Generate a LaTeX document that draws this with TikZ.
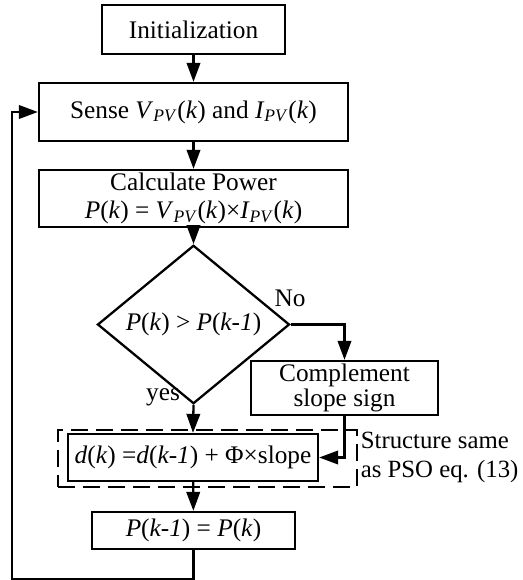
\documentclass[tikz,border=0pt]{standalone}
\usepackage{fontspec}
\setmainfont{Liberation Serif}
\usetikzlibrary{arrows.meta,shapes.geometric}

\newcommand{\vpv}{\textit{V}\textsubscript{\textit{PV}}}
\newcommand{\ipv}{\textit{I}\textsubscript{\textit{PV}}}

\tikzset{
	every node/.style={font=\fontsize{14.4}{16.5}\selectfont},
	box/.style={draw, line width=1.3pt, inner sep=0pt, align=center},
	decision/.style={draw, diamond, line width=1.3pt, inner sep=0pt, minimum width=3.84cm, minimum height=2.3cm},
	dashbox/.style={draw, line width=1.6pt, dash pattern=on 0.34cm off 0.16cm, inner sep=0pt},
	flow/.style={line width=1.3pt, -{Triangle[length=0.38cm, width=0.27cm]}}
}

\begin{document}
\begin{tikzpicture}
		\useasboundingbox (0,0) rectangle (10.44,-11.6);
		
		%blocks
		\node at (3.87,-0.59) [box, minimum width=3.66cm, minimum height=0.98cm] (init){Initialization};
		\node at (3.87,-2.24) [box, minimum width=6.18cm, minimum height=1.16cm] (sense){Sense \vpv(\textit{k}) and \ipv(\textit{k})};
		\node at (3.87,-3.97) [box, minimum width=6.18cm, minimum height=1.14cm] (calc){Calculate Power\\[-1pt]\textit{P}(\textit{k}) = \vpv(\textit{k})×\ipv(\textit{k})};
		\node at (3.87,-6.49) [decision] (dec){\textit{P}(\textit{k}) > \textit{P}(\textit{k-1})};
		\node at (6.89,-7.76) [box, minimum width=3.74cm, minimum height=1.08cm] (comp){Complement\\[-2pt]slope sign};
		\node at (3.86,-9.15) [box, minimum width=5.0cm, minimum height=0.94cm] (upd){\textit{d}(\textit{k}) =\textit{d}(\textit{k-1}) + Φ×slope};
		\node at (3.87,-10.61) [box, minimum width=4.06cm, minimum height=0.74cm] (prev){\textit{P}(\textit{k-1}) = \textit{P}(\textit{k})};
		
		%dashed group and note
		\node at (4.15,-9.17) [dashbox, minimum width=5.98cm, minimum height=1.14cm] (grp){};
		\node at (7.21,-9.15) [anchor=west, align=left, inner sep=0pt, font=\fontsize{14.1}{16.5}\selectfont] (note){Structure same\\as PSO eq. (13)};
		
		%connectors
		\draw[flow] (init) -- (sense);
		\draw[flow] (sense) -- (calc);
		\draw[flow] (calc) -- (dec);
		\draw[flow] (dec.east) -| (comp.north);
		\draw[flow] (dec.south) -- (upd.north);
		\draw[flow] (comp.south) |- (upd.east);
		\draw[flow] (upd) -- (prev);
		
		%loop back
		\coordinate (loop) at (0.24,-11.58);
		\draw[flow] (prev.south) |- (loop) |- (sense.west);
		
		%labels
		\node at (5.8,-5.96) (no){No};
		\node at (3.26,-7.94) (yes){yes};
\end{tikzpicture}
\end{document}
